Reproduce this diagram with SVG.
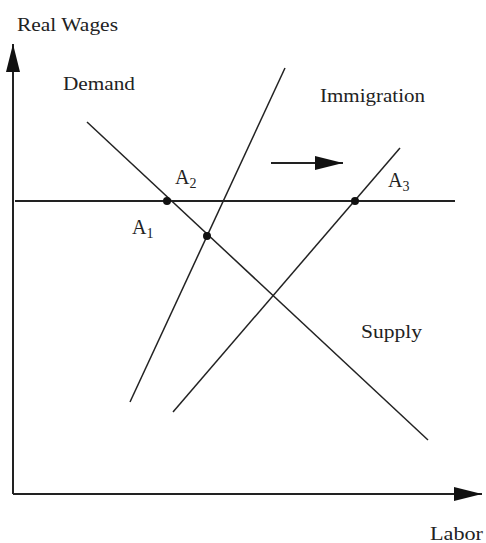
<svg xmlns="http://www.w3.org/2000/svg" width="486" height="543" viewBox="0 0 486 543">
<style>
text{font-family:"Liberation Serif","Times New Roman",serif;font-size:18px;fill:#222}
.lab{font-size:20px}
.sub{font-size:14px}
.ax{stroke:#222;stroke-width:2;fill:none}
.ln{stroke:#222;stroke-width:1.5;fill:none}
.dot{fill:#111}
</style>
<defs>
<marker id="ah" markerUnits="userSpaceOnUse" markerWidth="30" markerHeight="16" refX="28" refY="7" orient="auto">
<path d="M0,0 L28,7 L0,14 Z" fill="#111"/>
</marker>
</defs>
<g id="axes">
<path class="ax" d="M13,494 L13,44" marker-end="url(#ah)"/>
<path class="ax" d="M13,494 L482,494" marker-end="url(#ah)"/>
<text x="17" y="31" textLength="101" lengthAdjust="spacingAndGlyphs">Real Wages</text>
<text x="430" y="540" textLength="53" lengthAdjust="spacingAndGlyphs">Labor</text>
</g>
<g id="connectors">
<line class="ax" x1="15" y1="201" x2="455" y2="201"/>
<line class="ln" x1="87" y1="122" x2="428" y2="440"/>
<line class="ln" x1="130" y1="402" x2="285" y2="68"/>
<line class="ln" x1="173" y1="412" x2="400" y2="148"/>
<path class="ax" d="M271,163 L343,163" marker-end="url(#ah)"/>
</g>
<g id="demand"><text x="63" y="90" textLength="72" lengthAdjust="spacingAndGlyphs">Demand</text></g>
<g id="immigration"><text x="320" y="102" textLength="105" lengthAdjust="spacingAndGlyphs">Immigration</text></g>
<g id="supply"><text x="361" y="338" textLength="61" lengthAdjust="spacingAndGlyphs">Supply</text></g>
<g id="A1"><circle class="dot" cx="207" cy="236" r="4"/><text class="lab" x="132" y="234">A<tspan class="sub" dy="4">1</tspan></text></g>
<g id="A2"><circle class="dot" cx="167" cy="201" r="4"/><text class="lab" x="175" y="184">A<tspan class="sub" dy="4">2</tspan></text></g>
<g id="A3"><circle class="dot" cx="355" cy="201" r="4"/><text class="lab" x="388" y="187">A<tspan class="sub" dy="4">3</tspan></text></g>
</svg>
